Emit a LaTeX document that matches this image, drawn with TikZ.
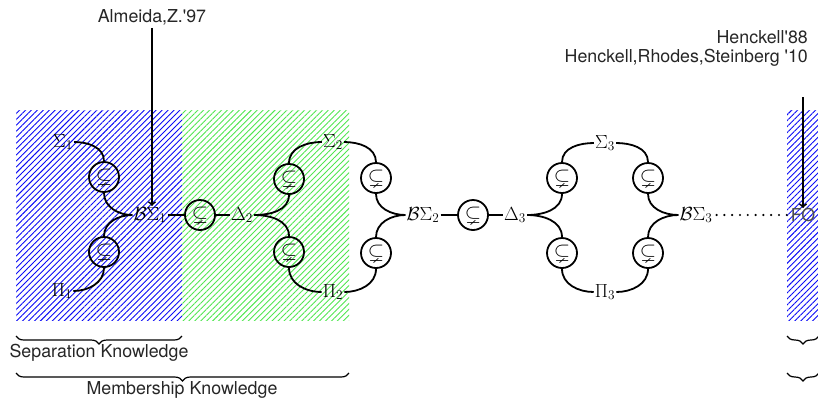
\RequirePackage{fix-cm}
\documentclass[tikz,border=0pt]{standalone}
\usepackage{amssymb}
\usepackage{fontspec}
\newfontfamily\hv{TeX Gyre Heros}
\usetikzlibrary{patterns.meta,decorations.pathreplacing}
\definecolor{hgreen}{RGB}{80,230,80}
\definecolor{hblue}{RGB}{10,10,245}
\begin{document}
\begin{tikzpicture}[x=1pt,y=-1pt,
  sub/.style={circle,draw,line width=1.8pt,minimum size=30pt,inner sep=0pt,font=\fontsize{21}{24}\selectfont},
  lab/.style={inner sep=1pt,font=\fontsize{19}{22}\selectfont},
  conn/.style={line width=1.8pt},
  txt/.style={inner sep=0pt,text=black!85,font=\hv\fontsize{17.8}{21}\selectfont},
  hatchb/.style={pattern={Lines[angle=45,distance=4.2pt,line width=0.9pt]},pattern color=hblue},
  hatchg/.style={pattern={Lines[angle=45,distance=4.2pt,line width=0.9pt]},pattern color=hgreen},
  bracest/.style={decorate,decoration={brace,amplitude=8pt,mirror},line width=1.2pt},
  arr/.style={line width=1.8pt,->}
]
\useasboundingbox (0,0) rectangle (818,397);
\clip (0,0) rectangle (818,397);
% hatched regions
\path[hatchb] (16,110) rectangle (182,320);
\path[hatchg] (182,110) rectangle (349,320);
\path[hatchb] (787,110) rectangle (822,320);

% labels
\node[lab] (s1) at (63,142) {$\Sigma_1$};
\node[lab] (p1) at (62,291) {$\Pi_1$};
\node[lab] (bs1) at (150,215) {$\mathcal{B}\Sigma_1$};
\node[lab] (d2) at (242,215) {$\Delta_2$};
\node[lab] (s2) at (333,142) {$\Sigma_2$};
\node[lab] (p2) at (333,292) {$\Pi_2$};
\node[lab] (bs2) at (423,215) {$\mathcal{B}\Sigma_2$};
\node[lab] (d3) at (515,215) {$\Delta_3$};
\node[lab] (s3) at (605,143) {$\Sigma_3$};
\node[lab] (p3) at (605,292) {$\Pi_3$};
\node[lab] (bs3) at (696,215) {$\mathcal{B}\Sigma_3$};
\node[txt,text=black!70] (fo) at (803,215) {FO};

% circles
\node[sub] (c1a) at (104,177) {$\subsetneq$};
\node[sub] (c1b) at (104,252) {$\subsetneq$};
\node[sub] (c12) at (200,215) {$\subsetneq$};
\node[sub] (c2a) at (289,179) {$\subsetneq$};
\node[sub] (c2b) at (289,252) {$\subsetneq$};
\node[sub] (c3a) at (376,178) {$\subsetneq$};
\node[sub] (c3b) at (376,253) {$\subsetneq$};
\node[sub] (c23) at (473,215) {$\subsetneq$};
\node[sub] (c4a) at (562,178) {$\subsetneq$};
\node[sub] (c4b) at (562,253) {$\subsetneq$};
\node[sub] (c5a) at (648,178) {$\subsetneq$};
\node[sub] (c5b) at (648,253) {$\subsetneq$};

% connectors
\draw[conn] (s1.east) to[out=0,in=90] (c1a.north);
\draw[conn] (c1a.south) to[out=-90,in=180] (bs1.west);
\draw[conn] (bs1.west) to[out=180,in=90] (c1b.north);
\draw[conn] (c1b.south) to[out=-90,in=0] (p1.east);
\draw[conn] (bs1.east) -- (c12.west);
\draw[conn] (c12.east) -- (d2.west);
\draw[conn] (d2.east) to[out=0,in=-90] (c2a.south);
\draw[conn] (c2a.north) to[out=90,in=180] (s2.west);
\draw[conn] (d2.east) to[out=0,in=90] (c2b.north);
\draw[conn] (c2b.south) to[out=-90,in=180] (p2.west);
\draw[conn] (s2.east) to[out=0,in=90] (c3a.north);
\draw[conn] (c3a.south) to[out=-90,in=180] (bs2.west);
\draw[conn] (bs2.west) to[out=180,in=90] (c3b.north);
\draw[conn] (c3b.south) to[out=-90,in=0] (p2.east);
\draw[conn] (bs2.east) -- (c23.west);
\draw[conn] (c23.east) -- (d3.west);
\draw[conn] (d3.east) to[out=0,in=-90] (c4a.south);
\draw[conn] (c4a.north) to[out=90,in=180] (s3.west);
\draw[conn] (d3.east) to[out=0,in=90] (c4b.north);
\draw[conn] (c4b.south) to[out=-90,in=180] (p3.west);
\draw[conn] (s3.east) to[out=0,in=90] (c5a.north);
\draw[conn] (c5a.south) to[out=-90,in=180] (bs3.west);
\draw[conn] (p3.east) to[out=0,in=-90] (c5b.south);
\draw[conn] (c5b.north) to[out=90,in=180] (bs3.west);
\draw[line width=2.4pt,line cap=round,dash pattern=on 0pt off 7.8pt] (bs3.east) ++(3,0) -- (fo.west);

% references
\node[txt] (alm) at (152,17) {Almeida,Z.'97};
\draw[arr] (alm.south) ++(0,3) -- (bs1.north -| alm.south);
\node[txt,align=right,anchor=east] (hen) at (808,48) {Henckell'88\\[-2pt]Henckell,Rhodes,Steinberg '10};
\coordinate (htop) at (803,97);
\draw[arr] (htop) -- (fo.north -| htop);

% braces
\coordinate (sepl) at (16,336);
\coordinate (sepr) at (182,336);
\draw[bracest] (sepl) -- (sepr);
\node[txt] (sep) at (99,353) {Separation Knowledge};
\coordinate (meml) at (16,373);
\coordinate (memr) at (349,373);
\draw[bracest] (meml) -- (memr);
\node[txt] (mem) at (182,390) {Membership Knowledge};
\coordinate (fbl1) at (787,336);
\coordinate (fbr1) at (819,336);
\draw[bracest] (fbl1) -- (fbr1);
\coordinate (fbl2) at (787,373);
\coordinate (fbr2) at (819,373);
\draw[bracest] (fbl2) -- (fbr2);
\end{tikzpicture}
\end{document}
